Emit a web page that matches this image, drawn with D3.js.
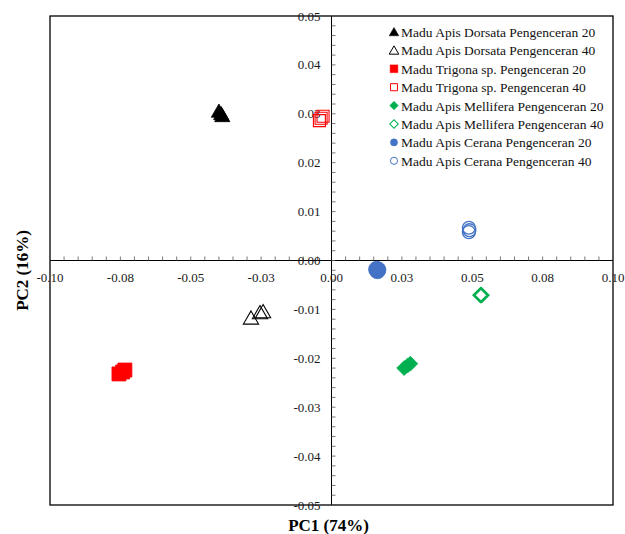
<!DOCTYPE html>
<html>
<head>
<meta charset="utf-8">
<script src="https://cdn.jsdelivr.net/npm/d3@7"></script>
<style>
  html, body { margin: 0; padding: 0; background: #fff; }
  svg { display: block; font-family: "Liberation Serif", "Times New Roman", serif; }
</style>
</head>
<body>
<div id="chart"></div>
<script>
// PCA score plot: PC1 vs PC2 for honey samples at two dilutions
const seriesNames = [
  "Madu Apis Dorsata Pengenceran 20",
  "Madu Apis Dorsata Pengenceran 40",
  "Madu Trigona sp. Pengenceran 20",
  "Madu Trigona sp. Pengenceran 40",
  "Madu Apis Mellifera Pengenceran 20",
  "Madu Apis Mellifera Pengenceran 40",
  "Madu Apis Cerana Pengenceran 20",
  "Madu Apis Cerana Pengenceran 40"
];
const seriesShapes = ["triangle", "triangle", "square", "square", "diamond", "diamond", "circle", "circle"];
const seriesFilled = [true, false, true, false, true, false, true, false];
const seriesColors = ["#000000", "#000000", "#FF0000", "#FF0000", "#00B050", "#00B050", "#4472C4", "#4472C4"];

// replicate scores per series: [PC1, PC2]
const dorsata20 = [[-0.0400, 0.0305], [-0.0392, 0.0300], [-0.0388, 0.0296]];
const dorsata40 = [[-0.0286, -0.0118], [-0.0254, -0.0107], [-0.0243, -0.0105]];
const trigona20 = [[-0.0755, -0.0232], [-0.0742, -0.0228], [-0.0734, -0.0224]];
const trigona40 = [[-0.0043, 0.0286], [-0.0037, 0.0291], [-0.0030, 0.0295]];
const mellifera20 = [[0.0258, -0.0220], [0.0270, -0.0215], [0.0280, -0.0211]];
const mellifera40 = [[0.0529, -0.0071], [0.0531, -0.0070], [0.0533, -0.0071]];
const cerana20 = [[0.0160, -0.0018], [0.0163, -0.0021], [0.0165, -0.0019]];
const cerana40 = [[0.0488, 0.0067], [0.0488, 0.0058], [0.0490, 0.0062]];
const seriesValues = [dorsata20, dorsata40, trigona20, trigona40, mellifera20, mellifera40, cerana20, cerana40];

const xTickValues = [-0.10, -0.075, -0.05, -0.025, 0, 0.025, 0.05, 0.075, 0.10];
const xTickLabels = ["-0.10", "-0.08", "-0.05", "-0.03", "0.00", "0.03", "0.05", "0.08", "0.10"];
const yTickValues = [-0.05, -0.04, -0.03, -0.02, -0.01, 0, 0.01, 0.02, 0.03, 0.04, 0.05];
const yTickLabels = ["-0.05", "-0.04", "-0.03", "-0.02", "-0.01", "0.00", "0.01", "0.02", "0.03", "0.04", "0.05"];
const xTitle = "PC1 (74%)";
const yTitle = "PC2 (16%)";

const W = 625, H = 534;
const plotLeft = 50, plotRight = 613, plotTop = 16, plotBottom = 505;

const x = d3.scaleLinear().domain([-0.10, 0.10]).range([plotLeft, plotRight]);
const y = d3.scaleLinear().domain([-0.05, 0.05]).range([plotBottom, plotTop]);

const svg = d3.select("#chart").append("svg").attr("width", W).attr("height", H);

// plot frame
svg.append("rect")
  .attr("x", plotLeft).attr("y", plotTop)
  .attr("width", plotRight - plotLeft).attr("height", plotBottom - plotTop)
  .attr("fill", "none").attr("stroke", "#000").attr("stroke-width", 1.3);

// horizontal axis through PC2 = 0
const x0 = x(0), y0 = y(0);
const xAxis = svg.append("g").attr("transform", `translate(0,${y0})`);
xAxis.append("line").attr("x1", plotLeft).attr("x2", plotRight).attr("stroke", "#000").attr("stroke-width", 1);
const xMinor = d3.range(-0.10, 0.1001, 0.005);
xAxis.selectAll("line.minor").data(xMinor).join("line")
  .attr("class", "minor")
  .attr("x1", d => x(d)).attr("x2", d => x(d))
  .attr("y1", -4).attr("y2", 0)
  .attr("stroke", "#555").attr("stroke-width", 0.8);

// vertical axis through PC1 = 0
const yAxis = svg.append("g").attr("transform", `translate(${x0},0)`);
yAxis.append("line").attr("y1", plotTop).attr("y2", plotBottom).attr("stroke", "#000").attr("stroke-width", 1);
const yMinor = d3.range(-0.05, 0.0501, 0.002);
yAxis.selectAll("line.minor").data(yMinor).join("line")
  .attr("class", "minor")
  .attr("x1", 0).attr("x2", 4)
  .attr("y1", d => y(d)).attr("y2", d => y(d))
  .attr("stroke", "#555").attr("stroke-width", 0.8);

// tick labels
svg.append("g").selectAll("text").data(xTickValues).join("text")
  .attr("x", d => x(d)).attr("y", y0 + 21)
  .attr("text-anchor", "middle")
  .attr("font-size", 13).attr("fill", "#1a1a1a")
  .text((d, i) => xTickLabels[i]);

svg.append("g").selectAll("text").data(yTickValues).join("text")
  .attr("x", x0 - 11).attr("y", d => y(d) + 4.5)
  .attr("text-anchor", "end")
  .attr("font-size", 13).attr("fill", "#1a1a1a")
  .text((d, i) => yTickLabels[i]);

// axis titles
svg.append("text")
  .attr("x", (plotLeft + plotRight) / 2 - 3).attr("y", 531)
  .attr("text-anchor", "middle").attr("font-size", 17).attr("font-weight", "bold")
  .text(xTitle);
svg.append("text")
  .attr("transform", `translate(28,${(plotTop + plotBottom) / 2 + 10}) rotate(-90)`)
  .attr("text-anchor", "middle").attr("font-size", 17).attr("font-weight", "bold")
  .text(yTitle);

// marker shapes; areas differ between plot and legend
const symbolFor = { triangle: d3.symbolTriangle, square: d3.symbolSquare, diamond: d3.symbolSquare, circle: d3.symbolCircle };
const rotateFor = { triangle: 0, square: 0, diamond: 45, circle: 0 };
const plotSize = [100, 100, 196, 144, 110, 100, 200, 130];
const plotStroke = [0.8, 1.1, 0.8, 1.1, 0.8, 1.8, 0.8, 1.3];
const legendSize = [40, 40, 60, 50, 36, 36, 40, 40];

function markerPath(shape, area) {
  return d3.symbol().type(symbolFor[shape]).size(area)();
}

// points
seriesValues.forEach((vals, si) => {
  const shape = seriesShapes[si];
  const filled = seriesFilled[si];
  const col = seriesColors[si];
  svg.append("g").selectAll("path").data(vals).join("path")
    .attr("d", markerPath(shape, plotSize[si]))
    .attr("transform", d => `translate(${x(d[0])},${y(d[1])}) rotate(${rotateFor[shape]})${shape === "triangle" ? " translate(0,1.5)" : ""}`)
    .attr("fill", filled ? col : "none")
    .attr("stroke", col)
    .attr("stroke-width", plotStroke[si]);
});

// legend
const legX = 394, legY0 = 32, legStep = 18.4;
const leg = svg.append("g");
seriesNames.forEach((name, i) => {
  const shape = seriesShapes[i];
  const gy = legY0 + i * legStep;
  leg.append("path")
    .attr("d", markerPath(shape, legendSize[i]))
    .attr("transform", `translate(${legX},${gy}) rotate(${rotateFor[shape]})${shape === "triangle" ? " translate(0,1)" : ""}`)
    .attr("fill", seriesFilled[i] ? seriesColors[i] : "none")
    .attr("stroke", seriesColors[i])
    .attr("stroke-width", seriesFilled[i] ? 0.5 : 1);
  leg.append("text")
    .attr("x", legX + 7).attr("y", gy + 5)
    .attr("font-size", 13.5).attr("fill", "#111")
    .text(name);
});
</script>
</body>
</html>
